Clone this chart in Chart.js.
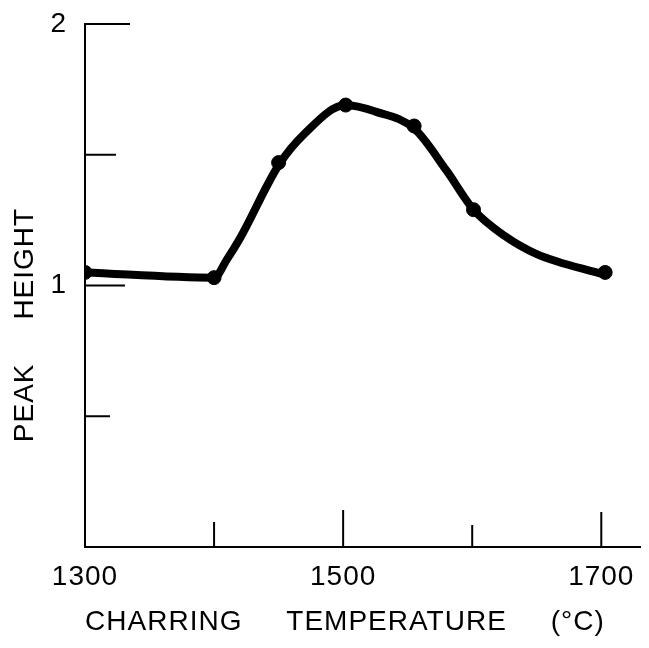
<!DOCTYPE html>
<html><head><meta charset="utf-8">
<script src="https://cdn.jsdelivr.net/npm/chart.js@4"></script>
<style>html,body{margin:0;padding:0;background:#fff}#wrap{width:649px;height:648px}</style>
</head><body><div id="wrap"><canvas id="c"></canvas></div>
<script>
// Measured data points (markers)
const markerTemps = [1300, 1400, 1450, 1502, 1555, 1601, 1703];
const markerHeights = [1.05, 1.03, 1.47, 1.69, 1.61, 1.29, 1.05];
// Hand-drawn smooth curve
const curveTemps = [1300, 1400, 1410, 1420, 1450, 1470, 1502, 1525, 1555, 1580, 1601, 1625, 1650, 1703];
const curveHeights = [1.05, 1.03, 1.10, 1.18, 1.46, 1.58, 1.69, 1.665, 1.60, 1.44, 1.29, 1.19, 1.12, 1.04];
// Axis ticks
const xTickValues = [1300, 1400, 1500, 1600, 1700];
const xTickLabels = ['1300', '', '1500', '', '1700'];
const yTickValues = [0.5, 1, 1.5, 2];
const yTickLabels = ['', '1', '', '2'];
const xTitle = 'CHARRING     TEMPERATURE     (°C)    ';
const yTitle = 'PEAK     HEIGHT         ';

const FONT = {family: '"Liberation Sans", Arial, sans-serif', size: 28};

const letterSpace = {
  id: 'letterSpace',
  beforeUpdate(chart) { chart.ctx.letterSpacing = '1px'; },
  beforeDraw(chart) { chart.ctx.letterSpacing = '1px'; }
};

const inwardTicks = {
  id: 'inwardTicks',
  beforeDatasetsDraw(chart, args, opts) {
    const {ctx, scales: {x, y}} = chart;
    ctx.save();
    ctx.strokeStyle = '#000';
    ctx.lineWidth = 2;
    xTickValues.forEach(v => {
      const len = opts.xLen[v];
      if (!len) return;
      const px = x.getPixelForValue(v);
      ctx.beginPath(); ctx.moveTo(px, y.bottom); ctx.lineTo(px, y.bottom - len); ctx.stroke();
    });
    yTickValues.forEach(v => {
      const len = opts.yLen[v];
      if (!len) return;
      const py = y.getPixelForValue(v);
      ctx.beginPath(); ctx.moveTo(x.left, py); ctx.lineTo(x.left + len, py); ctx.stroke();
    });
    ctx.restore();
  }
};

new Chart(document.getElementById('c'), {
  data: {
    datasets: [
      {
        type: 'line',
        data: curveTemps.map((t, i) => ({x: t, y: curveHeights[i]})),
        borderColor: '#000',
        borderWidth: 8,
        pointRadius: 0,
        cubicInterpolationMode: 'monotone',
        borderCapStyle: 'round',
        borderJoinStyle: 'round',
        fill: false
      },
      {
        type: 'scatter',
        data: markerTemps.map((t, i) => ({x: t, y: markerHeights[i]})),
        backgroundColor: '#000',
        borderColor: '#000',
        pointRadius: 7
      }
    ]
  },
  options: {
    responsive: true,
    maintainAspectRatio: false,
    animation: false,
    devicePixelRatio: 1,
    layout: {padding: {left: 8, top: 24, right: 9, bottom: 0}},
    plugins: {
      legend: {display: false},
      tooltip: {enabled: false},
      inwardTicks: {
        xLen: {1400: 25, 1500: 37, 1600: 22, 1700: 35},
        yLen: {0.5: 25, 1: 40, 1.5: 31, 2: 45}
      }
    },
    scales: {
      x: {
        type: 'linear',
        min: 1300,
        max: 1730,
        afterBuildTicks: s => { s.ticks = xTickValues.map(v => ({value: v})); },
        afterFit: s => { s.height = 101; s.paddingLeft = 0; s.paddingRight = 0; },
        grid: {display: false, drawTicks: false},
        border: {display: true, color: '#000', width: 2},
        ticks: {
          autoSkip: false, maxRotation: 0, color: '#000', font: FONT, padding: 13,
          callback: (v, i) => xTickLabels[i]
        },
        title: {display: true, text: xTitle, color: '#000', font: FONT, padding: {top: 0, bottom: 9}}
      },
      y: {
        type: 'linear',
        min: 0,
        max: 2,
        afterBuildTicks: s => { s.ticks = yTickValues.map(v => ({value: v})); },
        afterFit: s => { s.width = 77; s.paddingTop = 0; s.paddingBottom = 0; },
        grid: {display: false, drawTicks: false},
        border: {display: true, color: '#000', width: 2},
        ticks: {
          autoSkip: false, color: '#000', font: FONT, padding: 18,
          callback: (v, i) => yTickLabels[i]
        },
        title: {display: true, text: yTitle, color: '#000', font: FONT, padding: {top: 0, bottom: 0}}
      }
    }
  },
  plugins: [letterSpace, inwardTicks]
});
</script>
</body></html>
